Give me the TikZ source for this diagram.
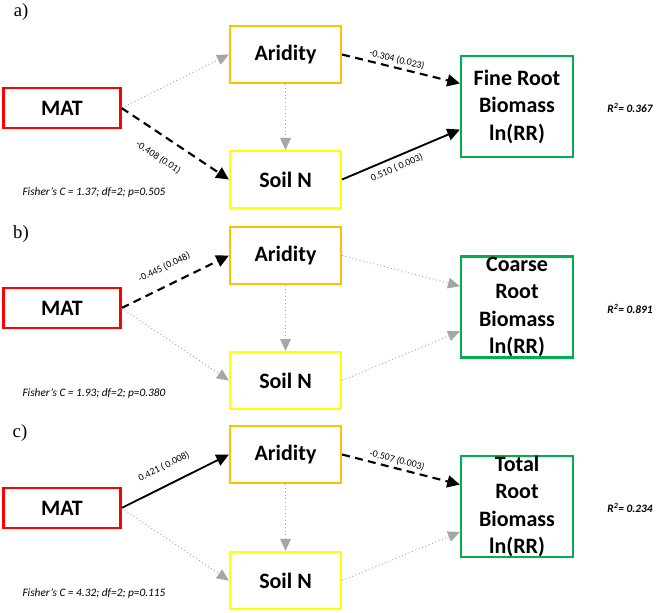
\documentclass[tikz,border=0pt]{standalone}
\usepackage{fontspec}
\setmainfont{Carlito}
\newfontfamily\panelfont{Liberation Serif}
\usetikzlibrary{arrows.meta}
\definecolor{matred}{RGB}{255,0,0}
\definecolor{aridorange}{RGB}{255,192,0}
\definecolor{soilyellow}{RGB}{255,255,0}
\definecolor{rootgreen}{RGB}{0,176,80}
\definecolor{nsgray}{RGB}{166,166,166}
\tikzset{
  varbox/.style={draw, line width=1.6pt, inner sep=0pt, align=center, font=\bfseries\fontsize{16.5}{20.6}\selectfont},
  matbox/.style={varbox, draw=matred, minimum width=87.75pt, minimum height=30pt},
  aridbox/.style={varbox, draw=aridorange, minimum width=83.25pt, minimum height=42.75pt},
  soilbox/.style={varbox, draw=soilyellow, minimum width=83.25pt, minimum height=42.75pt},
  rootbox/.style={varbox, draw=rootgreen, minimum width=84pt, minimum height=75.75pt},
  roottext/.style={inner sep=0pt, align=center, font=\bfseries\fontsize{16.5}{20.6}\selectfont},
  nspath/.style={nsgray, dotted, line width=0.7pt, -{Triangle[length=9pt,width=8pt]}},
  negpath/.style={black, line width=1.6pt, dash pattern=on 6pt off 4pt, -{Triangle[length=9.5pt,width=9pt]}},
  pospath/.style={black, line width=1.4pt, -{Triangle[length=9.5pt,width=9pt]}},
  coef/.style={font=\fontsize{7.4}{9}\selectfont, sloped, inner sep=1pt},
  fitstat/.style={font=\itshape\fontsize{8.5}{10}\selectfont, inner sep=0pt},
  rsq/.style={font=\bfseries\itshape\fontsize{8.5}{10}\selectfont, inner sep=0pt},
  panel/.style={font=\panelfont\fontsize{14}{16}\selectfont, inner sep=0pt}
}
\begin{document}
\begin{tikzpicture}[x=0.75pt,y=0.75pt]
        \useasboundingbox (0,0) rectangle (660,-612);

        \node[panel] (pa) at (21,-12) {a)};
        \node[matbox] (mata) at (62,-108) {MAT};
        \node[aridbox] (arida) at (285.5,-54.5) {Aridity};
        \node[soilbox] (soila) at (285.5,-179.5) {Soil N};
        \node[rootbox] (fra) at (517,-106.5) {};
        \node[roottext] (frat) at (fra) {Fine Root\\Biomass\\ln(RR)};
        \node[rsq] (rsqa) at (630,-108) {R\textsuperscript{2}= 0.367};
        \node[fitstat] (fita) at (94,-192) {Fisher’s C = 1.37; df=2; p=0.505};
        \draw[nspath] (mata.east) -- (arida.west);
        \draw[negpath] (mata.east) -- node[coef, pos=0.45, below=10.5pt] {-0.408 (0.01)} (soila.west);
        \draw[nspath] (arida.south) -- (soila.north);
        \draw[negpath] (arida.east) -- node[coef, pos=0.45, above=1pt] {-0.304 (0.023)} (fra.158);
        \draw[pospath] (soila.east) -- node[coef, pos=0.43, below=3pt] {0.510 ( 0.003)} (fra.202);

        \node[panel] (pb) at (21,-234) {b)};
        \node[matbox] (matb) at (62,-308) {MAT};
        \node[aridbox] (aridb) at (285.5,-255.5) {Aridity};
        \node[soilbox] (soilb) at (285.5,-380.5) {Soil N};
        \node[rootbox] (crb) at (517,-307) {};
        \node[roottext] (crbt) at (crb) {Coarse\\Root\\Biomass\\ln(RR)};
        \node[rsq] (rsqb) at (630,-309) {R\textsuperscript{2}= 0.891};
        \node[fitstat] (fitb) at (94,-393) {Fisher’s C = 1.93; df=2; p=0.380};
        \draw[negpath] (matb.east) -- node[coef, pos=0.47, above=8.4pt] {-0.445 (0.048)} (aridb.west);
        \draw[nspath] (matb.east) -- (soilb.west);
        \draw[nspath] (aridb.south) -- (soilb.north);
        \draw[nspath] (aridb.east) -- (crb.160);
        \draw[nspath] (soilb.east) -- (crb.203);

        \node[panel] (pc) at (20,-433) {c)};
        \node[matbox] (matc) at (62,-508) {MAT};
        \node[aridbox] (aridc) at (285.5,-454.5) {Aridity};
        \node[soilbox] (soilc) at (285.5,-580.5) {Soil N};
        \node[rootbox] (trb) at (517,-506.5) {};
        \node[roottext] (trbt) at (trb) {Total\\Root\\Biomass\\ln(RR)};
        \node[rsq] (rsqc) at (630,-508) {R\textsuperscript{2}= 0.234};
        \node[fitstat] (fitc) at (94,-593) {Fisher’s C = 4.32; df=2; p=0.115};
        \draw[pospath] (matc.east) -- node[coef, pos=0.47, above=8.8pt] {0.421 ( 0.008)} (aridc.west);
        \draw[nspath] (matc.east) -- (soilc.west);
        \draw[nspath] (aridc.south) -- (soilc.north);
        \draw[negpath] (aridc.east) -- node[coef, pos=0.45, above=1pt] {-0.507 (0.003)} (trb.159);
        \draw[nspath] (soilc.east) -- (trb.204);
\end{tikzpicture}
\end{document}
